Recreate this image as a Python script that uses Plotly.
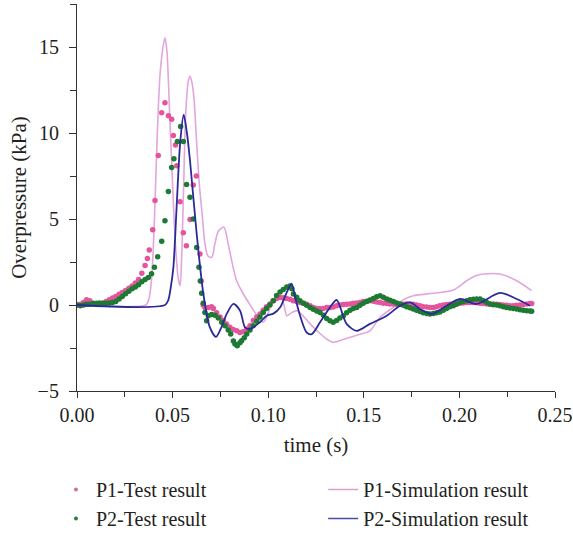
import plotly.graph_objects as go

# ---------------- data ----------------
p1_test_t = [0.0000, 0.0017, 0.0034, 0.0050, 0.0067, 0.0084, 0.0101, 0.0118, 0.0135, 0.0152,
             0.0169, 0.0186, 0.0203, 0.0220, 0.0237, 0.0254, 0.0271, 0.0288, 0.0305, 0.0322,
             0.0339, 0.0356, 0.0368, 0.0378, 0.0396, 0.0408, 0.0425, 0.0443, 0.0460, 0.0478,
             0.0495, 0.0504, 0.0515, 0.0522, 0.0539, 0.0556, 0.0572, 0.0591, 0.0608, 0.0624,
             0.0643, 0.0650, 0.0660, 0.0669, 0.0687, 0.0704, 0.0713, 0.0730, 0.0748, 0.0765,
             0.0782, 0.0800, 0.0817, 0.0835, 0.0852, 0.0869, 0.0888, 0.0905, 0.0922, 0.0940,
             0.0957, 0.0974, 0.0991, 0.1009, 0.1026, 0.1044, 0.1062, 0.1079, 0.1096, 0.1114,
             0.1131, 0.1149, 0.1166, 0.1184, 0.1201, 0.1219, 0.1236, 0.1254, 0.1271, 0.1289,
             0.1306, 0.1323, 0.1340, 0.1358, 0.1375, 0.1393, 0.1410, 0.1428, 0.1445, 0.1463,
             0.1480, 0.1497, 0.1515, 0.1532, 0.1550, 0.1567, 0.1585, 0.1602, 0.1620, 0.1637,
             0.1655, 0.1672, 0.1690, 0.1707, 0.1724, 0.1742, 0.1759, 0.1776, 0.1794, 0.1811,
             0.1829, 0.1846, 0.1864, 0.1881, 0.1898, 0.1916, 0.1933, 0.1950, 0.1968, 0.1985,
             0.2003, 0.2020, 0.2038, 0.2055, 0.2073, 0.2090, 0.2108, 0.2125, 0.2143, 0.2160,
             0.2177, 0.2195, 0.2212, 0.2230, 0.2247, 0.2264, 0.2282, 0.2299, 0.2317, 0.2334,
             0.2352, 0.2369, 0.2378]
p1_test_v = [0.00, 0.05, 0.15, 0.30, 0.25, 0.10, 0.05, 0.05, 0.10, 0.20,
             0.30, 0.40, 0.50, 0.62, 0.72, 0.85, 0.98, 1.10, 1.28, 1.48,
             1.85, 2.30, 2.70, 3.20, 4.37, 6.07, 8.69, 11.18, 11.76, 11.00,
             10.80, 9.85, 9.30, 8.10, 6.00, 4.20, 3.45, 4.97, 6.98, 7.50,
             2.97, 1.40, 0.00, -0.14, -0.14, -0.10, -0.20, -0.45, -0.70, -0.90,
             -1.10, -1.30, -1.42, -1.50, -1.60, -1.55, -1.40, -1.20, -0.90, -0.70,
             -0.52, -0.30, -0.10, 0.06, 0.25, 0.38, 0.44, 0.42, 0.38, 0.33,
             0.25, 0.20, 0.15, 0.10, 0.05, -0.05, -0.14, -0.20, -0.22, -0.20,
             -0.15, -0.14, -0.12, -0.05, 0.00, 0.03, 0.05, 0.06, 0.10, 0.12,
             0.15, 0.20, 0.22, 0.25, 0.22, 0.18, 0.15, 0.10, 0.08, 0.06,
             0.06, 0.05, 0.03, 0.05, 0.06, 0.05, 0.04, 0.00, -0.05, -0.10,
             -0.12, -0.14, -0.14, -0.10, -0.05, 0.00, 0.03, 0.05, 0.06, 0.08,
             0.10, 0.12, 0.14, 0.15, 0.15, 0.13, 0.10, 0.08, 0.06, 0.05,
             0.06, 0.05, 0.03, 0.00, -0.02, -0.04, -0.04, -0.02, 0.00, 0.03,
             0.06, 0.08, 0.09]

p2_test_t = [0.0000, 0.0017, 0.0034, 0.0050, 0.0067, 0.0084, 0.0101, 0.0118, 0.0135, 0.0152,
             0.0169, 0.0186, 0.0203, 0.0220, 0.0237, 0.0254, 0.0271, 0.0288, 0.0305, 0.0322,
             0.0339, 0.0356, 0.0373, 0.0390, 0.0405, 0.0422, 0.0443, 0.0460, 0.0478, 0.0495,
             0.0507, 0.0525, 0.0542, 0.0556, 0.0573, 0.0591, 0.0608, 0.0626, 0.0638, 0.0645,
             0.0652, 0.0660, 0.0669, 0.0678, 0.0687, 0.0704, 0.0722, 0.0739, 0.0757, 0.0774,
             0.0791, 0.0804, 0.0818, 0.0826, 0.0838, 0.0852, 0.0861, 0.0875, 0.0888, 0.0905,
             0.0922, 0.0940, 0.0957, 0.0974, 0.0991, 0.1009, 0.1027, 0.1044, 0.1062, 0.1079,
             0.1097, 0.1114, 0.1124, 0.1132, 0.1149, 0.1166, 0.1184, 0.1201, 0.1219, 0.1236,
             0.1254, 0.1271, 0.1289, 0.1306, 0.1323, 0.1340, 0.1358, 0.1375, 0.1393, 0.1410,
             0.1428, 0.1445, 0.1463, 0.1480, 0.1497, 0.1515, 0.1532, 0.1550, 0.1567, 0.1585,
             0.1602, 0.1620, 0.1637, 0.1655, 0.1672, 0.1690, 0.1707, 0.1724, 0.1742, 0.1759,
             0.1776, 0.1794, 0.1811, 0.1829, 0.1846, 0.1864, 0.1881, 0.1898, 0.1916, 0.1933,
             0.1950, 0.1968, 0.1985, 0.2003, 0.2020, 0.2038, 0.2055, 0.2073, 0.2090, 0.2108,
             0.2125, 0.2143, 0.2160, 0.2177, 0.2195, 0.2212, 0.2230, 0.2247, 0.2264, 0.2282,
             0.2299, 0.2317, 0.2334, 0.2352, 0.2369, 0.2378]
p2_test_v = [0.00, -0.05, 0.00, 0.05, 0.05, 0.08, 0.10, 0.12, 0.10, 0.10,
             0.12, 0.15, 0.20, 0.35, 0.50, 0.65, 0.80, 0.95, 1.05, 1.18,
             1.35, 1.48, 1.60, 1.82, 2.20, 2.81, 3.70, 4.90, 6.60, 8.00,
             8.50, 9.50, 10.38, 9.50, 7.00, 6.26, 5.00, 3.35, 2.20, 1.40,
             0.68, 0.10, -0.43, -0.91, -0.62, -0.55, -0.60, -0.75, -1.00, -1.20,
             -1.45, -1.69, -2.10, -2.27, -2.37, -2.20, -2.08, -1.90, -1.69, -1.45,
             -1.20, -0.95, -0.70, -0.43, -0.20, 0.00, 0.25, 0.55, 0.75, 0.90,
             1.05, 1.10, 0.95, 0.64, 0.45, 0.25, 0.10, -0.02, -0.14, -0.25,
             -0.35, -0.43, -0.60, -0.78, -0.91, -1.00, -0.90, -0.75, -0.62, -0.45,
             -0.30, -0.20, -0.14, -0.02, 0.10, 0.20, 0.29, 0.38, 0.48, 0.54,
             0.45, 0.35, 0.28, 0.20, 0.12, 0.06, -0.02, -0.10, -0.16, -0.23,
             -0.30, -0.38, -0.45, -0.50, -0.52, -0.50, -0.45, -0.40, -0.30, -0.20,
             -0.10, -0.04, 0.05, 0.15, 0.20, 0.25, 0.30, 0.33, 0.35, 0.35,
             0.25, 0.15, 0.06, 0.02, 0.00, -0.04, -0.10, -0.15, -0.18, -0.20,
             -0.23, -0.28, -0.30, -0.33, -0.35, -0.37]

p1_sim_t = [0.0000, 0.0360, 0.0375, 0.0390, 0.0405, 0.0420, 0.0435, 0.0450, 0.0460, 0.0470,
            0.0485, 0.0500, 0.0515, 0.0530, 0.0539, 0.0548, 0.0558, 0.0568, 0.0582, 0.0591,
            0.0600, 0.0612, 0.0626, 0.0640, 0.0656, 0.0670, 0.0685, 0.0705, 0.0720, 0.0740,
            0.0768, 0.0790, 0.0809, 0.0835, 0.0870, 0.0914, 0.0948, 0.0974, 0.0995, 0.1027,
            0.1055, 0.1075, 0.1097, 0.1115, 0.1149, 0.1180, 0.1219, 0.1265, 0.1306, 0.1340,
            0.1380, 0.1428, 0.1480, 0.1532, 0.1585, 0.1654, 0.1705, 0.1759, 0.1864, 0.1968,
            0.2038, 0.2085, 0.2125, 0.2212, 0.2300, 0.2378]
p1_sim_v = [0.00, 0.00, 0.30, 1.50, 5.00, 10.00, 13.50, 15.00, 15.54, 14.80,
            11.00, 7.00, 3.50, 1.50, 1.12, 3.00, 7.00, 11.00, 13.00, 13.29,
            13.00, 12.00, 9.40, 7.00, 5.10, 3.50, 2.85, 2.77, 3.50, 4.30,
            4.52, 3.60, 2.58, 1.41, 0.64, -0.14, -0.72, -1.00, -0.60, 0.25,
            0.50, 0.30, -0.62, -0.50, -0.33, -0.60, -1.10, -1.60, -1.98, -2.17,
            -2.05, -1.88, -1.70, -1.50, -0.72, -0.14, 0.30, 0.54, 0.68, 0.87,
            1.41, 1.70, 1.80, 1.80, 1.41, 0.83]

p2_sim_t = [0.0000, 0.0460, 0.0478, 0.0490, 0.0504, 0.0521, 0.0540, 0.0558, 0.0575, 0.0591,
            0.0626, 0.0661, 0.0695, 0.0727, 0.0755, 0.0783, 0.0818, 0.0853, 0.0879, 0.0905,
            0.0957, 0.0992, 0.1027, 0.1062, 0.1097, 0.1122, 0.1141, 0.1166, 0.1201, 0.1228,
            0.1271, 0.1323, 0.1358, 0.1410, 0.1463, 0.1532, 0.1620, 0.1689, 0.1742, 0.1794,
            0.1855, 0.1933, 0.2003, 0.2090, 0.2212, 0.2300, 0.2369]
p2_sim_v = [0.00, 0.00, 0.30, 1.00, 2.17, 5.70, 9.50, 11.06, 10.00, 8.40,
            4.13, 0.64, -1.30, -1.85, -1.30, -0.52, 0.06, -0.33, -1.30, -1.40,
            -1.00, -0.62, -0.50, -0.14, 0.73, 1.24, 0.44, -0.60, -1.60, -1.69,
            -1.00, -0.14, 0.29, -1.10, -1.50, -1.10, -0.62, -0.04, 0.15, -0.23,
            -0.52, -0.04, 0.35, 0.06, 0.70, 0.35, -0.04]

x_ticks = [0.00, 0.05, 0.10, 0.15, 0.20, 0.25]
x_tick_text = ["0.00", "0.05", "0.10", "0.15", "0.20", "0.25"]
y_ticks = [-5, 0, 5, 10, 15]
y_tick_text = ["\u22125", "0", "5", "10", "15"]

names = ["P1-Test result", "P1-Simulation result", "P2-Test result", "P2-Simulation result"]

# ---------------- style ----------------
FONT = "Liberation Serif"
TXT = "#231f20"
PINK_DOT = "#e4559e"
GREEN_DOT = "#1d7a32"
PINK_LINE = "#e2a6dc"
BLUE_LINE = "#2a2a98"

fig = go.Figure()

# data traces (legend handled by dummy traces below)
fig.add_trace(go.Scatter(x=p1_sim_t, y=p1_sim_v, mode="lines", showlegend=False,
                         line=dict(color=PINK_LINE, width=1.6, shape="spline", smoothing=0.8)))
fig.add_trace(go.Scatter(x=p1_test_t, y=p1_test_v, mode="markers", showlegend=False,
                         marker=dict(color=PINK_DOT, size=5.5, line=dict(width=0))))
fig.add_trace(go.Scatter(x=p2_test_t, y=p2_test_v, mode="markers", showlegend=False,
                         marker=dict(color=GREEN_DOT, size=5.5, line=dict(width=0))))
fig.add_trace(go.Scatter(x=p2_sim_t, y=p2_sim_v, mode="lines", showlegend=False,
                         line=dict(color=BLUE_LINE, width=1.8, shape="spline", smoothing=0.8)))

# legend entries: left column (test results), right column (simulation results)
fig.add_trace(go.Scatter(x=[None], y=[None], mode="markers", name=names[0], legend="legend",
                         marker=dict(color="#cc6fa3", size=4)))
fig.add_trace(go.Scatter(x=[None], y=[None], mode="markers", name=names[2], legend="legend",
                         marker=dict(color="#2e7d45", size=4)))
fig.add_trace(go.Scatter(x=[None], y=[None], mode="lines", name=names[1], legend="legend2",
                         line=dict(color="#dca0cf", width=1.5)))
fig.add_trace(go.Scatter(x=[None], y=[None], mode="lines", name=names[3], legend="legend2",
                         line=dict(color="#4a4aa8", width=1.5)))

axis_common = dict(showline=True, linecolor="#333333", linewidth=1.2, showgrid=False,
                   zeroline=False, ticks="outside", tickcolor="#333333", tickwidth=1.2,
                   tickfont=dict(family=FONT, size=20, color=TXT))

fig.update_xaxes(range=[0, 0.25], tickvals=x_ticks, ticktext=x_tick_text, ticklen=6,
                 minor=dict(dtick=0.025, tick0=0, ticks="outside", ticklen=5,
                            tickcolor="#333333", tickwidth=1.2),
                 title=dict(text="time (s)", font=dict(family=FONT, size=21, color=TXT),
                            standoff=12),
                 **axis_common)
fig.update_yaxes(range=[-5, 17.5], tickvals=y_ticks, ticktext=y_tick_text, ticklen=7,
                 ticklabelstandoff=6,
                 minor=dict(dtick=2.5, tick0=0, ticks="outside", ticklen=6,
                            tickcolor="#333333", tickwidth=1.2),
                 title=dict(text="Overpressure (kPa)", font=dict(family=FONT, size=21, color=TXT),
                            standoff=5),
                 **axis_common)

legend_common = dict(orientation="v", yanchor="top", xanchor="left",
                     font=dict(family=FONT, size=20, color=TXT),
                     bgcolor="rgba(0,0,0,0)", itemwidth=30, tracegroupgap=0)

fig.update_layout(
    width=573, height=533,
    margin=dict(l=77, r=18, t=4, b=142, autoexpand=False),
    paper_bgcolor="white", plot_bgcolor="white",
    font=dict(family=FONT, size=20, color=TXT),
    legend=dict(x=-0.044, y=-0.204, **legend_common),
    legend2=dict(x=0.515, y=-0.204, **legend_common),
)

fig.write_html("out.html", config={"displayModeBar": False},
               post_script="document.body.style.margin='0';")
